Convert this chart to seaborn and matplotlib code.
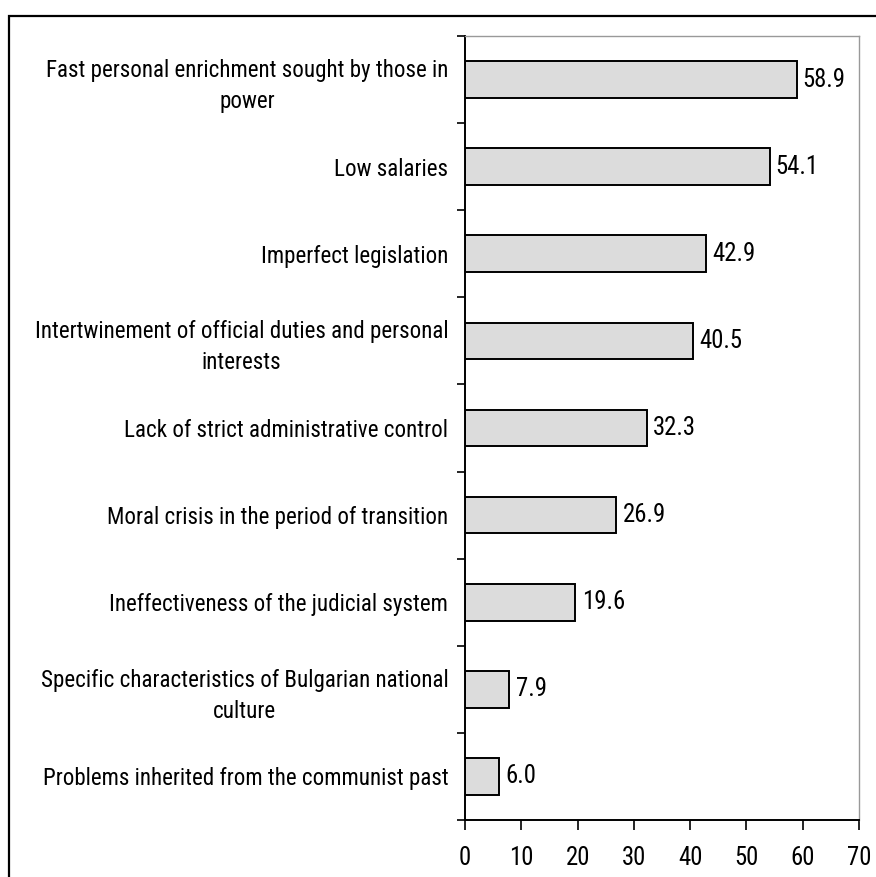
import matplotlib
matplotlib.use("Agg")
import matplotlib.pyplot as plt
from matplotlib import font_manager
from matplotlib.patches import Rectangle
from matplotlib.ticker import FixedLocator
import seaborn as sns
import pandas as pd

categories = [
    "Fast personal enrichment sought by those in\npower",
    "Low salaries",
    "Imperfect legislation",
    "Intertwinement of official duties and personal\ninterests",
    "Lack of strict administrative control",
    "Moral crisis in the period of transition",
    "Ineffectiveness of the judicial system",
    "Specific characteristics of Bulgarian national\nculture",
    "Problems inherited from the communist past",
]
values = [58.9, 54.1, 42.9, 40.5, 32.3, 26.9, 19.6, 7.9, 6.0]
x_ticks = [0, 10, 20, 30, 40, 50, 60, 70]

df = pd.DataFrame({"cause": categories, "share": values})

sns.set_theme(style="white")
names = {f.name for f in font_manager.fontManager.ttflist}
# narrow sans faces: (family, label size, number size)
preferred = [("Liberation Sans Narrow", 18.5, 18.5), ("Arial Narrow", 18.5, 18.5),
             ("Nimbus Sans Narrow", 18.5, 18.5), ("Roboto Condensed", 16.6, 17.8)]
family, FS, NS = next(((n, s, t) for n, s, t in preferred if n in names),
                      ("DejaVu Sans", 14, 14))
plt.rcParams["font.family"] = [family, "DejaVu Sans"]
plt.rcParams["text.color"] = "black"
plt.rcParams["xtick.color"] = "black"
plt.rcParams["ytick.color"] = "black"

fig = plt.figure(figsize=(8.76, 8.77), dpi=100)
W, H = 876, 877

# outer frame around the whole chart
fig.patches.append(Rectangle((9 / W, -0.05), 1.2, 1 - 16 / H + 0.05,
                             transform=fig.transFigure, fill=False,
                             edgecolor="black", linewidth=1.6))

ax = fig.add_axes([465 / W, 1 - 820 / H, (859 - 465) / W, (820 - 36) / H])

sns.barplot(data=df, x="share", y="cause", order=categories, orient="h",
            color="#dcdcdc", edgecolor="black", linewidth=1.4,
            width=0.42, saturation=1, ax=ax)

for p, v in zip(ax.patches, values):
    ax.annotate(f"{v:.1f}", (p.get_width(), p.get_y() + p.get_height() / 2),
                xytext=(4.5, 0), textcoords="offset points",
                ha="left", va="center", fontsize=NS, color="black")

ax.set_xlim(0, 70)
ax.set_ylim(len(categories) - 0.5, -0.5)
ax.set_xticks(x_ticks)
ax.set_xlabel("")
ax.set_ylabel("")

ax.yaxis.set_minor_locator(FixedLocator([i - 0.5 for i in range(len(categories) + 1)]))
ax.tick_params(axis="y", which="major", length=0, pad=12, labelsize=FS)
ax.tick_params(axis="y", which="minor", left=True, length=6, width=1.2,
               direction="out", color="black")
ax.tick_params(axis="x", which="major", bottom=True, length=7, width=1.2,
               direction="out", color="black", pad=12, labelsize=NS)
for lab in ax.get_yticklabels():
    lab.set_multialignment("center")
    lab.set_linespacing(1.45)

for side in ("left", "bottom"):
    ax.spines[side].set_color("black")
    ax.spines[side].set_linewidth(1.4)
for side in ("top", "right"):
    ax.spines[side].set_color("#999999")
    ax.spines[side].set_linewidth(1.0)

fig.savefig("out.png", dpi=100)
